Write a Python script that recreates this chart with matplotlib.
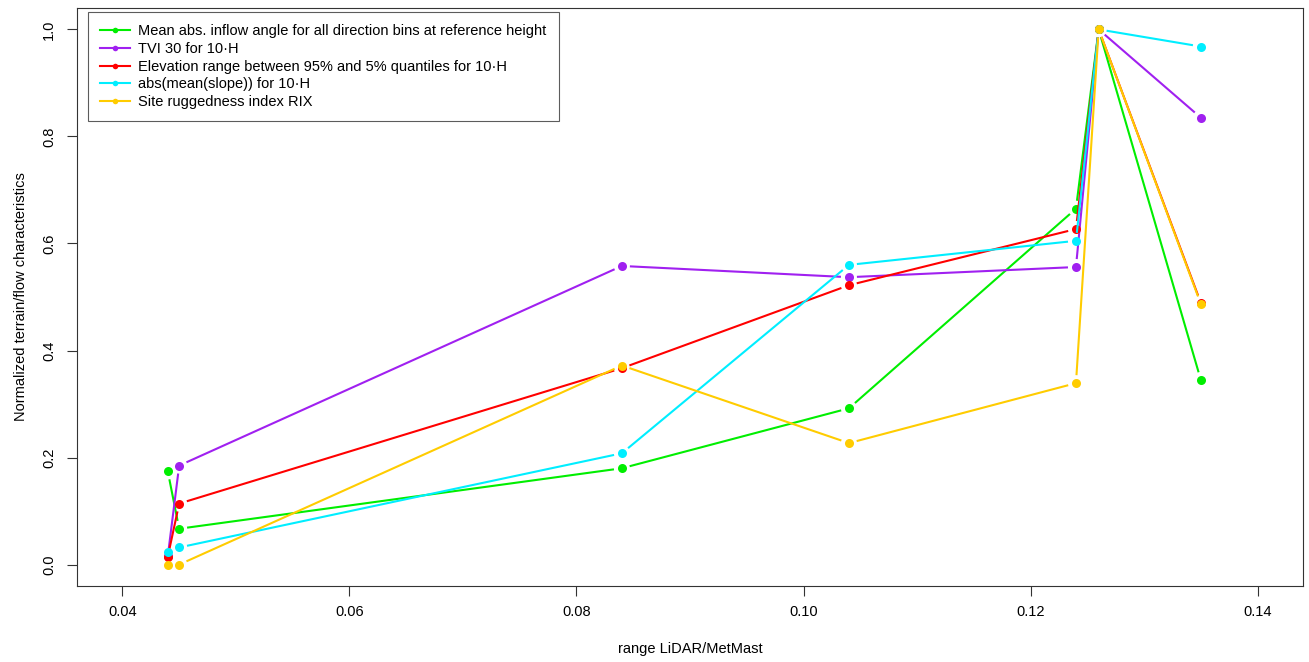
import numpy as np
import matplotlib
matplotlib.use("Agg")
import matplotlib.pyplot as plt
from matplotlib.lines import Line2D

plt.rcParams['font.family'] = ['Liberation Sans', 'DejaVu Sans']

x_range = [0.044, 0.045, 0.084, 0.104, 0.124, 0.126, 0.135]

inflow_angle = [0.174, 0.067, 0.180, 0.292, 0.665, 1.0, 0.345]
tvi30 = [0.016, 0.185, 0.558, 0.537, 0.556, 1.0, 0.835]
elev_range = [0.015, 0.114, 0.367, 0.522, 0.627, 1.0, 0.489]
mean_slope = [0.023, 0.032, 0.208, 0.560, 0.605, 1.0, 0.968]
rix = [0.0, 0.0, 0.372, 0.227, 0.339, 1.0, 0.487]

labels = [
    "Mean abs. inflow angle for all direction bins at reference height",
    "TVI 30 for 10\u00b7H",
    "Elevation range between 95% and 5% quantiles for 10\u00b7H",
    "abs(mean(slope)) for 10\u00b7H",
    "Site ruggedness index RIX",
]
series = [inflow_angle, tvi30, elev_range, mean_slope, rix]
colors = ["#00EE00", "#A020F0", "#FF0000", "#00EEFF", "#FFCC00"]

x_ticks = [0.04, 0.06, 0.08, 0.10, 0.12, 0.14]
y_ticks = [0.0, 0.2, 0.4, 0.6, 0.8, 1.0]

W, H = 1309, 662
fig = plt.figure(figsize=(W / 100, H / 100), dpi=100)
ax = fig.add_axes([77 / W, 1 - 586 / H, (1303 - 77) / W, (586 - 8) / H])
ax.set_xlim(0.04 - 0.004, 0.14 + 0.004)
ax.set_ylim(-0.04, 1.04)

gap = 8.0  # pixel gap around points (R type="b")
for ys, c in zip(series, colors):
    pts = ax.transData.transform(np.column_stack([x_range, ys]))
    inv = ax.transData.inverted()
    for i in range(len(pts) - 1):
        p0, p1 = pts[i], pts[i + 1]
        d = p1 - p0
        L = np.hypot(*d)
        if L <= 2 * gap:
            continue
        u = d / L
        a = inv.transform(p0 + u * gap)
        b = inv.transform(p1 - u * gap)
        ax.plot([a[0], b[0]], [a[1], b[1]], color=c, lw=1.5, solid_capstyle='butt')
    ax.plot(x_range, ys, linestyle='none', marker='o', ms=6.5, color=c, mec=c, mew=0)

ax.set_xticks(x_ticks)
ax.set_xticklabels(["%.2f" % v for v in x_ticks])
ax.set_yticks(y_ticks)
ax.set_yticklabels(["%.1f" % v for v in y_ticks], rotation=90, va='center')
ax.tick_params(axis='both', length=7, width=0.8, labelsize=10.5, color='#333333', labelcolor='black')
ax.tick_params(axis='x', pad=7)
ax.tick_params(axis='y', pad=8)
for s in ax.spines.values():
    s.set_linewidth(0.8)
    s.set_color('#333333')

ax.set_xlabel("range LiDAR/MetMast", fontsize=10.5, labelpad=16)
ax.set_ylabel("Normalized terrain/flow characteristics", fontsize=10.5, labelpad=10)

handles = [Line2D([0], [0], color=c, lw=1.5, marker='o', ms=4, mew=0) for c in colors]
leg = ax.legend(handles, labels, loc='upper left', bbox_to_anchor=(11 / (1303 - 77), 1 - 4 / 578),
                fontsize=10.5, frameon=True, fancybox=False, edgecolor='#333333',
                handlelength=2.0, handletextpad=0.6, labelspacing=0.25, borderpad=0.85,
                borderaxespad=0)
leg.get_frame().set_linewidth(0.8)

fig.savefig("out.png", dpi=100)
